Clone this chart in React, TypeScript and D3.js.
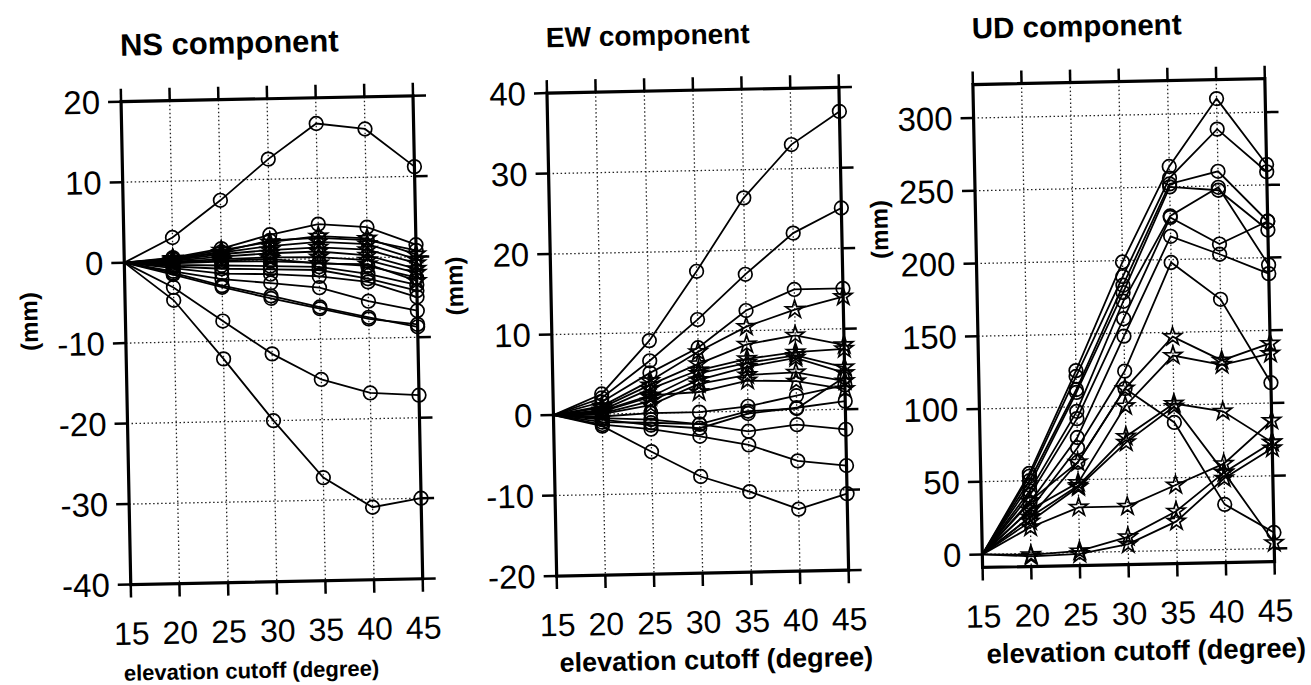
import { useEffect, useRef } from "react";
import * as d3 from "d3";

// elevation cutoff angles (degree)
const elevation = [15, 20, 25, 30, 35, 40, 45];
const xTicks = [15, 20, 25, 30, 35, 40, 45];

const nsTicks = [-40, -30, -20, -10, 0, 10, 20];
const ewTicks = [-20, -10, 0, 10, 20, 30, 40];
const udTicks = [0, 50, 100, 150, 200, 250, 300];

// NS component (mm)
const nsCircles = [
  [0, 3, 7.5, 12.5, 16.8, 16, 11.2],
  [0, 0.5, 1.5, 3.1, 4.3, 3.8, 1.5],
  [0, 0.3, 1.1, 2.4, 2.6, 2.2, 0.8],
  [0, -0.2, -0.1, -0.2, -0.5, -1.0, -2.6],
  [0, -0.4, -0.6, -0.8, -1.0, -2.0, -3.5],
  [0, -0.6, -1.0, -1.2, -1.4, -2.6, -4.2],
  [0, -0.8, -1.6, -1.8, -2.2, -3.0, -5.0],
  [0, -1.2, -2.3, -2.9, -3.6, -5.4, -6.7],
  [0, -1.6, -3.3, -4.8, -6.2, -7.6, -8.4],
  [0, -1.4, -3.1, -4.5, -6.0, -7.4, -8.7],
  [0, -3.2, -7.5, -11.7, -15, -16.8, -17.2],
  [0, -4.8, -12.2, -20, -27.2, -31, -30],
];
const nsStars = [
  [0, 0.4, 1.3, 2.2, 2.8, 2.4, 0.3],
  [0, 0.3, 1.0, 1.7, 2.1, 1.7, -0.3],
  [0, 0.2, 0.8, 1.2, 1.4, 1.0, -0.8],
  [0, 0.1, 0.5, 0.8, 0.9, 0.3, -1.5],
  [0, 0, 0.2, 0.3, 0.2, -0.3, -2.0],
  [0, -0.1, 0.0, 0.1, -0.6, -0.8, -3.0],
];

// EW component (mm)
const ewCircles = [
  [0, 2.5, 9, 17.5, 26.5, 33, 37],
  [0, 2, 6.5, 11.5, 17, 22, 25],
  [0, 1.5, 5, 8, 12.5, 15, 15],
  [0, -0.3, 0, 0, 0.6, 1.8, 3],
  [0, -0.5, -0.8, -1.5, 0, 0.2, 4],
  [0, -0.7, -1.5, -2, -0.3, 0.3, 1],
  [0, -1, -1.2, -1.5, -2.5, -1.8, -2.5],
  [0, -1.3, -2, -3, -4.2, -6.3, -7],
  [0, -1.5, -4.8, -8, -10, -12.3, -10.5],
];
const ewStars = [
  [0, 1, 4, 7.5, 10.5, 12.5, 14],
  [0, 0.8, 3.5, 6, 8.3, 9.3, 8],
  [0, 0.5, 3, 5.2, 6.5, 7.2, 7.5],
  [0, 0.3, 2, 4.8, 6, 6.8, 5.2],
  [0, 0.1, 1.5, 4, 5.5, 6.5, 4.5],
  [0, 0, 1, 3.5, 4.5, 4.7, 3.5],
  [0, 0.4, 2.2, 2.5, 3.8, 3.6, 2.5],
];

// UD component (mm)
const udCircles = [
  [0, 55, 125, 199, 264, 310, 264],
  [0, 53, 121, 189, 256, 289, 259],
  [0, 50, 112, 183, 252, 260, 225],
  [0, 47, 110, 178, 250, 247, 219],
  [0, 43, 97, 172, 230, 249, 195],
  [0, 40, 92, 160, 229, 210, 225],
  [0, 35, 79, 148, 216, 203, 189],
  [0, 30, 72, 124, 198, 172, 114],
  [0, 25, 62, 112, 88, 31, 11],
];
const udStars = [
  [0, 36, 62, 112, 147, 130, 141],
  [0, 30, 48, 100, 134, 127, 134],
  [0, 25, 46, 79, 101, 95, 73],
  [0, 22, 45, 75, 99, 53, 4],
  [0, 18, 31, 31, 45, 59, 88],
  [0, -1, 1, 10, 27, 53, 73],
  [0, -2, -1, 5, 20, 49, 69],
];

const panels = [
  { title: "NS component", titleSize: 31, circles: nsCircles, stars: nsStars, yDomain: [-40, 20], yTicks: nsTicks, left: 126, mmY: 309, labelDx: -27, labelSize: 22 },
  { title: "EW component", titleSize: 28, circles: ewCircles, stars: ewStars, yDomain: [-20, 40], yTicks: ewTicks, left: 552, mmY: 282, labelDx: 12, labelSize: 27 },
  { title: "UD component", titleSize: 29.5, circles: udCircles, stars: udStars, yDomain: [-9, 323], yTicks: udTicks, left: 978, mmY: 234, labelDx: 16, labelSize: 27.5 },
];

const App = () => {
  const svgRef = useRef(null);

  useEffect(() => {
    document.body.style.margin = "0";
    const root = d3.select(svgRef.current);
    root.selectAll("*").remove();

    const width = 292;
    const top = 91;
    const bottom = 574;
    const font = "'Liberation Sans', Arial, Helvetica, sans-serif";

    // the scanned page is slightly tilted
    const svg = root.append("g").attr("transform", "rotate(-1.15, 655, 342)");

    panels.forEach((p) => {
      const x = d3.scaleLinear().domain([15, 45]).range([p.left, p.left + width]);
      const y = d3.scaleLinear().domain(p.yDomain).range([bottom, top]);
      const g = svg.append("g");

      // dotted grid
      g.selectAll(".vgrid")
        .data(xTicks.slice(1, -1))
        .join("line")
        .attr("x1", (d) => x(d))
        .attr("x2", (d) => x(d))
        .attr("y1", top)
        .attr("y2", bottom)
        .attr("stroke", "#222")
        .attr("stroke-width", 1.3)
        .attr("stroke-dasharray", "1.5,2.5");
      g.selectAll(".hgrid")
        .data(p.yTicks.filter((d) => y(d) > top + 2 && y(d) < bottom - 2))
        .join("line")
        .attr("x1", p.left)
        .attr("x2", p.left + width)
        .attr("y1", (d) => y(d))
        .attr("y2", (d) => y(d))
        .attr("stroke", "#222")
        .attr("stroke-width", 1.3)
        .attr("stroke-dasharray", "1.5,2.5");

      // outward ticks on all four sides
      const tl = 13;
      const tickG = g.append("g").attr("stroke", "#000").attr("stroke-width", 2.5);
      xTicks.forEach((t) => {
        tickG.append("line").attr("x1", x(t)).attr("x2", x(t)).attr("y1", top).attr("y2", top - tl);
        tickG.append("line").attr("x1", x(t)).attr("x2", x(t)).attr("y1", bottom).attr("y2", bottom + tl);
      });
      p.yTicks.forEach((t) => {
        tickG.append("line").attr("x1", p.left).attr("x2", p.left - tl).attr("y1", y(t)).attr("y2", y(t));
        tickG.append("line").attr("x1", p.left + width).attr("x2", p.left + width + tl).attr("y1", y(t)).attr("y2", y(t));
      });

      // series
      const line = d3
        .line()
        .x((d, i) => x(elevation[i]))
        .y((d) => y(d));
      const all = [
        ...p.circles.map((v) => ({ v, m: "o" })),
        ...p.stars.map((v) => ({ v, m: "s" })),
      ];
      all.forEach((s) => {
        g.append("path")
          .datum(s.v)
          .attr("d", line)
          .attr("fill", "none")
          .attr("stroke", "#000")
          .attr("stroke-width", 1.8);
      });
      const star = d3.symbol().type(d3.symbolStar).size(100)();
      all.forEach((s) => {
        s.v.forEach((val, i) => {
          if (i === 0) return;
          if (s.m === "o") {
            g.append("circle")
              .attr("cx", x(elevation[i]))
              .attr("cy", y(val))
              .attr("r", 6.8)
              .attr("fill", "none")
              .attr("stroke", "#000")
              .attr("stroke-width", 1.7);
          } else {
            g.append("path")
              .attr("d", star)
              .attr("transform", `translate(${x(elevation[i])},${y(val)})`)
              .attr("fill", "none")
              .attr("stroke", "#000")
              .attr("stroke-width", 1.7);
          }
        });
      });

      // frame
      g.append("rect")
        .attr("x", p.left)
        .attr("y", top)
        .attr("width", width)
        .attr("height", bottom - top)
        .attr("fill", "none")
        .attr("stroke", "#000")
        .attr("stroke-width", 3.2);

      // tick labels
      g.selectAll(".xl")
        .data(xTicks)
        .join("text")
        .attr("x", (d) => x(d))
        .attr("y", bottom + 60)
        .attr("text-anchor", "middle")
        .attr("font-family", font)
        .attr("font-size", 32)
        .text((d) => d);
      g.selectAll(".yl")
        .data(p.yTicks)
        .join("text")
        .attr("x", p.left - 21)
        .attr("y", (d) => y(d) + 11.5)
        .attr("text-anchor", "end")
        .attr("font-family", font)
        .attr("font-size", 33)
        .text((d) => d);

      // titles
      g.append("text")
        .attr("x", p.left)
        .attr("y", 45)
        .attr("font-family", font)
        .attr("font-weight", "bold")
        .attr("font-size", p.titleSize)
        .text(p.title);
      g.append("text")
        .attr("x", p.left + width / 2 + p.labelDx)
        .attr("y", 670)
        .attr("text-anchor", "middle")
        .attr("font-family", font)
        .attr("font-weight", "bold")
        .attr("font-size", p.labelSize)
        .text("elevation cutoff (degree)");
      g.append("text")
        .attr("transform", `translate(${p.left - 88},${p.mmY}) rotate(-90)`)
        .attr("text-anchor", "middle")
        .attr("font-family", font)
        .attr("font-weight", "bold")
        .attr("font-size", 24)
        .text("(mm)");
    });
  }, []);

  return <svg ref={svgRef} width={1311} height={685} style={{ display: "block", background: "#fff" }}></svg>;
};

export default App;
